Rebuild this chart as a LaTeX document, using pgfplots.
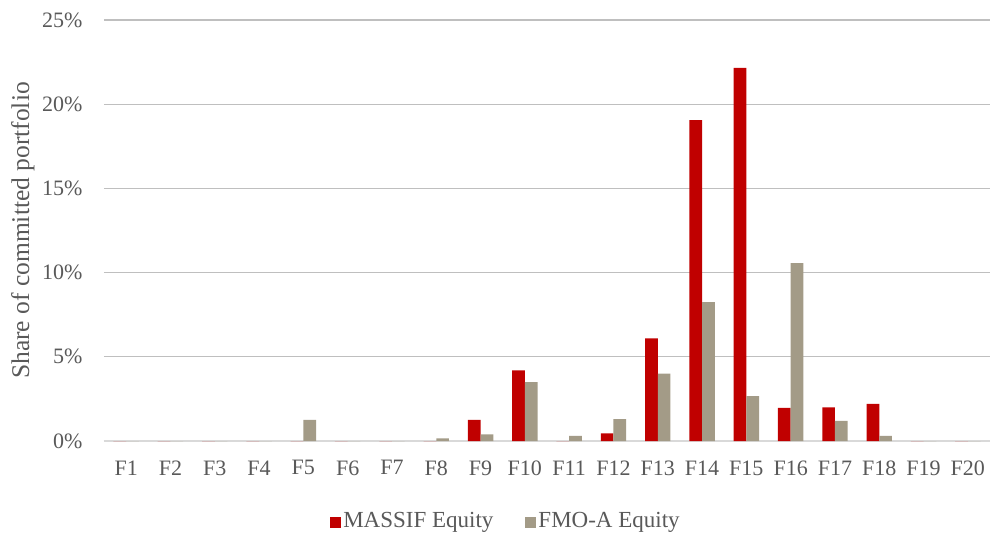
\documentclass[border=0pt]{standalone}
\usepackage{pgfplots}
\pgfplotsset{compat=1.18}
\usepackage{fontspec}
\setmainfont{Liberation Serif}
\definecolor{massif}{HTML}{C00000}
\definecolor{fmoa}{HTML}{A39B87}
\definecolor{txt}{HTML}{595959}
\definecolor{grid}{HTML}{D9D9D9}
\begin{document}
\fontsize{22}{25}\selectfont
\begin{tikzpicture}[x=1pt,y=1pt]
\useasboundingbox (-104pt,-92pt) rectangle (888pt,441pt);
\begin{axis}[
  at={(0pt,0pt)}, anchor=south west,
  scale only axis,
  width=886pt, height=421pt,
  xmin=-0.5, xmax=19.5,
  ymin=0, ymax=25,
  ybar=0pt, bar width=12.7pt,
  xtick={0,...,19},
  xticklabels={F1,F2,F3,F4,F5,F6,F7,F8,F9,F10,F11,F12,F13,F14,F15,F16,F17,F18,F19,F20},
  ytick={0,5,10,15,20,25},
  yticklabel={\pgfmathprintnumber{\tick}\%},
  /pgf/number format/assume math mode=true,
  tick label style={font=\fontsize{22}{25}\selectfont, text=txt},
  xticklabel style={yshift=-12pt},
  yticklabel style={xshift=-14pt},
  major tick length=0pt,
  axis lines=left,
  y axis line style={draw=none},
  x axis line style={grid, line width=1.2pt, -},
  ymajorgrids, xmajorgrids=false, grid style={grid, line width=1.2pt},
  ylabel={Share of committed portfolio},
  ylabel style={font=\fontsize{25.5}{28}\selectfont, text=txt, at={(rel axis cs:0,0.5)}, yshift=62pt, anchor=south},
  legend style={draw=none, at={(rel axis cs:0.4537,-0.1924)}, anchor=center, legend columns=2,
    font=\fontsize{23}{26}\selectfont, text=txt, /tikz/every even column/.append style={column sep=30pt},
    legend cell align=left},
  legend image code/.code={\fill[#1] (0pt,-5.5pt) rectangle (11pt,5.5pt);},
]
\addplot[fill=massif, draw=none] coordinates {
(0,0) (1,0) (2,0) (3,0) (4,0) (5,0) (6,0) (7,0) (8,1.25) (9,4.2) (10,0) (11,0.45) (12,6.1) (13,19.06) (14,22.15) (15,1.96) (16,2.0) (17,2.2) (18,0) (19,0)};
\addlegendentry{MASSIF Equity}
\addplot[fill=fmoa, draw=none] coordinates {
(0,0) (1,0) (2,0) (3,0) (4,1.25) (5,0) (6,0) (7,0.15) (8,0.4) (9,3.5) (10,0.3) (11,1.3) (12,4.0) (13,8.25) (14,2.67) (15,10.57) (16,1.2) (17,0.3) (18,0) (19,0)};
\addlegendentry{FMO-A Equity}
\end{axis}
\end{tikzpicture}
\end{document}
